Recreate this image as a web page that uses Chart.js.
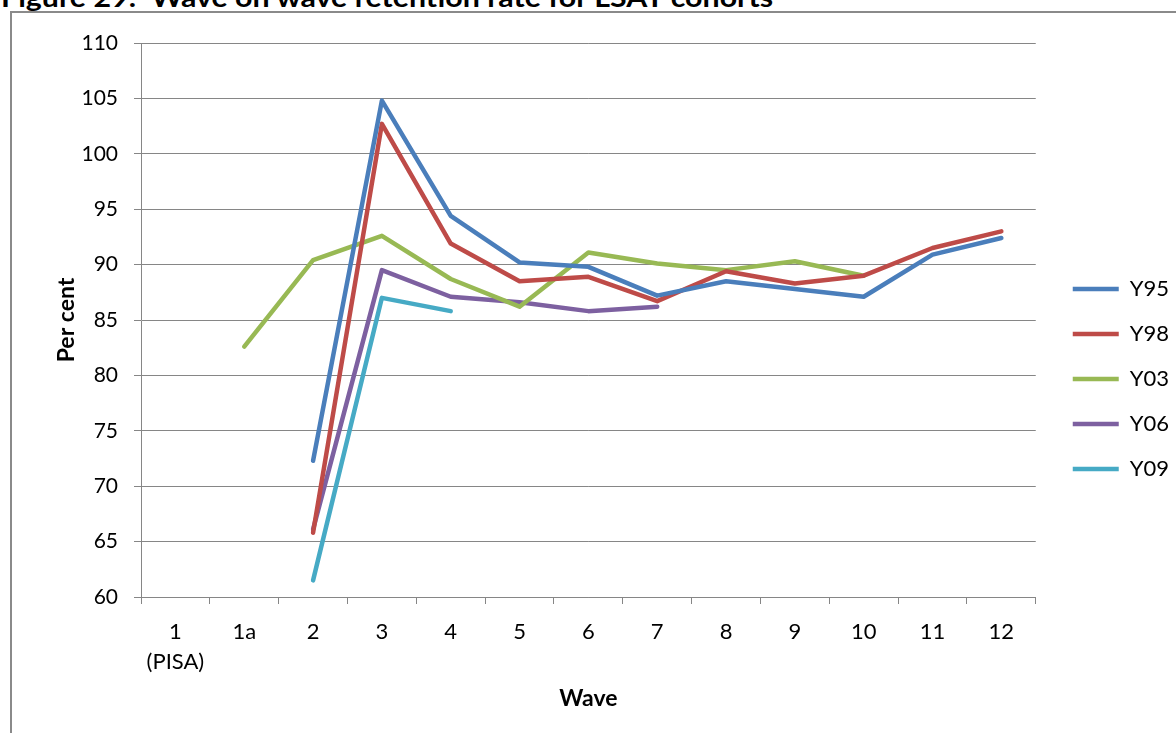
<!DOCTYPE html>
<html lang="en">
<head>
<meta charset="utf-8">
<title>Wave on wave retention rate for LSAY cohorts</title>
<script src="https://cdn.jsdelivr.net/npm/chart.js@4/dist/chart.umd.min.js"></script>
<style>
    html, body {
        margin: 0;
        padding: 0;
        background: #fff;
        overflow: hidden;
    }
    .page {
        position: relative;
        width: 1176px;
        height: 733px;
        overflow: hidden;
    }
    .figure-title {
        position: absolute;
        left: 1px;
        top: -16px;
        font: bold 26px "Lato", sans-serif;
        line-height: 26px;
        color: #000;
        white-space: nowrap;
        transform-origin: left top;
    }
    .chart-frame {
        position: absolute;
        left: 10px;
        top: 11px;
        width: 1300px;
        height: 900px;
        border: 2px solid #8a8a8a;
    }
    #retention {
        position: absolute;
        left: 0;
        top: 0;
    }
</style>
</head>
<body>
<div class="page">
    <div class="figure-title" id="figureTitle">Figure 29:&nbsp; Wave on wave retention rate for LSAY cohorts</div>
    <div class="chart-frame"></div>
    <canvas id="retention" width="1176" height="733" role="img" aria-label="Wave on wave retention rate for LSAY cohorts"></canvas>
</div>
<script>
'use strict';

// Survey waves (first wave is the PISA assessment)
const waves = [["1", "(PISA)"], "1a", "2", "3", "4", "5", "6", "7", "8", "9", "10", "11", "12"];

// Retention rate (per cent) of each cohort, wave on wave
const y95 = [null, null, 72.3, 104.8, 94.4, 90.2, 89.8, 87.2, 88.5, 87.8, 87.1, 90.9, 92.4];
const y98 = [null, null, 65.8, 102.7, 91.9, 88.5, 88.9, 86.7, 89.4, 88.3, 89.0, 91.5, 93.0];
const y03 = [null, 82.6, 90.4, 92.6, 88.7, 86.2, 91.1, 90.1, 89.5, 90.3, 89.0, null, null];
const y06 = [null, null, 66.1, 89.5, 87.1, 86.6, 85.8, 86.2, null, null, null, null, null];
const y09 = [null, null, 61.5, 87.0, 85.8, null, null, null, null, null, null, null, null];

const cohortNames = ["Y95", "Y98", "Y03", "Y06", "Y09"];
const cohortColors = ["#4a7ebb", "#be4b48", "#98b954", "#7d60a0", "#46aac5"];

const yMin = 60;
const yMax = 110;
const yStep = 5;

(function () {
    const GRID = "#868686";
    const FONT = "Lato";

    // squeeze the heading so it spans the same width as the original layout
    const title = document.getElementById("figureTitle");
    const titleWidth = title.getBoundingClientRect().width;
    if (titleWidth > 0) title.style.transform = `scaleX(${772 / titleWidth})`;

    // legend sits a fixed gap to the right of the plot area
    const legendShift = {
        id: "legendShift",
        afterLayout(chart) {
            const legend = chart.legend;
            if (!legend) return;
            const dx = chart.chartArea.right + 14 - legend.left;
            legend.left += dx;
            legend.right += dx;
        }
    };

    const series = [y95, y98, y03, y06, y09];
    const datasets = series.map((data, i) => ({
        label: cohortNames[i],
        data,
        borderColor: cohortColors[i],
        backgroundColor: cohortColors[i],
        borderWidth: 4.5,
        borderCapStyle: "round",
        borderJoinStyle: "round",
        pointRadius: 0,
        pointHoverRadius: 0,
        tension: 0,
        spanGaps: false,
    }));

    new Chart(document.getElementById("retention"), {
        type: "line",
        data: { labels: waves, datasets },
        plugins: [legendShift],
        options: {
            responsive: false,
            animation: false,
            events: [],
            layout: { padding: { left: 40, top: 43, right: 11, bottom: 18 } },
            plugins: {
                legend: {
                    position: "right",
                    labels: {
                        usePointStyle: true,
                        pointStyle: "line",
                        pointStyleWidth: 46,
                        padding: 23,
                        color: "#000",
                        font: { family: FONT, size: 22 },
                    },
                },
                tooltip: { enabled: false },
            },
            scales: {
                x: {
                    offset: true,
                    grid: {
                        offset: true,
                        drawOnChartArea: false,
                        tickLength: 7,
                        color: GRID,
                    },
                    border: { color: GRID },
                    ticks: {
                        color: "#000",
                        padding: 13,
                        maxRotation: 0,
                        autoSkip: false,
                        font: { family: FONT, size: 22, lineHeight: 1.35 },
                    },
                    title: {
                        display: true,
                        text: "Wave",
                        color: "#000",
                        font: { family: FONT, size: 23, weight: "bold" },
                        padding: { top: 8, bottom: 3 },
                    },
                    afterFit(scale) {
                        scale.height = 118;
                    },
                },
                y: {
                    min: yMin,
                    max: yMax,
                    grid: { tickLength: 7, color: GRID },
                    border: { color: GRID },
                    ticks: {
                        stepSize: yStep,
                        color: "#000",
                        padding: 16,
                        font: { family: FONT, size: 21 },
                    },
                    title: {
                        display: true,
                        text: "Per cent",
                        color: "#000",
                        font: { family: FONT, size: 23, weight: "bold" },
                        padding: { top: 13, bottom: 0 },
                    },
                    afterFit(scale) {
                        scale.width = 101;
                    },
                },
            },
        },
    });
})();
</script>
</body>
</html>
